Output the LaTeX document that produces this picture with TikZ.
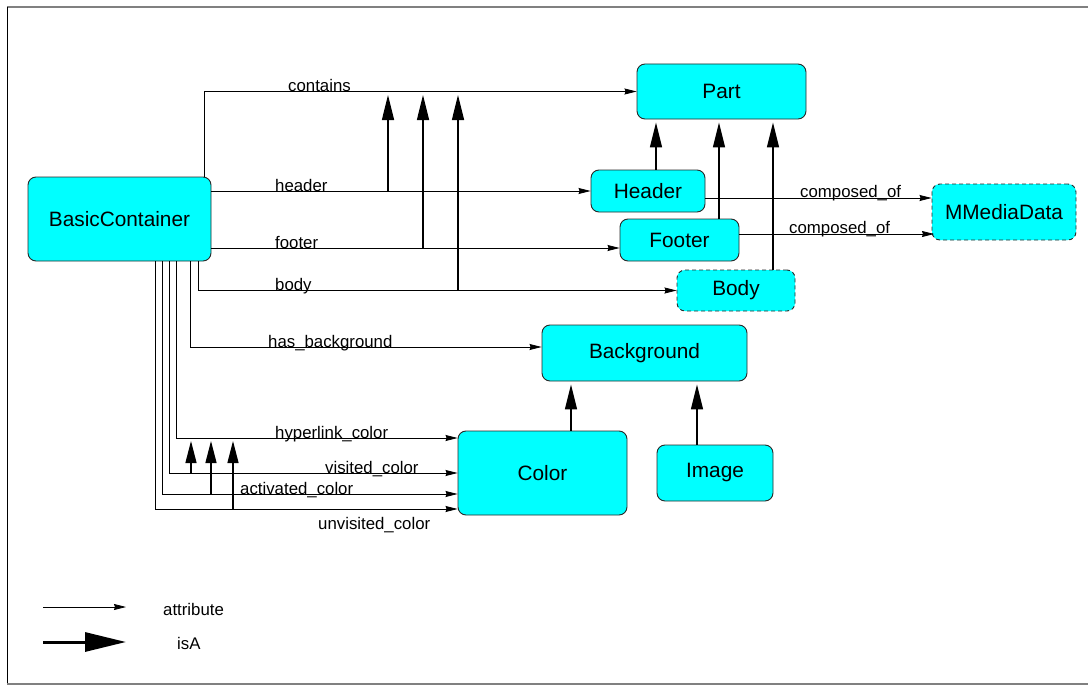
\documentclass[tikz,border=0pt]{standalone}
\usepackage{fontspec}
\setmainfont{Liberation Sans}
\usetikzlibrary{arrows.meta}
\definecolor{boxfill}{RGB}{0,255,255}
\definecolor{boxline}{RGB}{40,40,40}
\definecolor{framegray}{RGB}{128,128,128}
\begin{document}
\begin{tikzpicture}[x=1pt,y=-1pt,
  cls/.style={draw=boxline, fill=boxfill, rounded corners=8pt, line width=0.9pt, inner sep=0pt, font=\fontsize{20.8}{24}\selectfont},
  dcls/.style={cls, dash pattern=on 4pt off 3pt},
  attr/.style={draw=black, line width=0.8pt, -{Stealth[length=12pt,width=6pt,inset=1pt]}},
  isa/.style={draw=black, line width=1.3pt, -{Triangle[length=25pt,width=12pt]}},
  isas/.style={draw=black, line width=1.3pt, -{Triangle[length=22pt,width=11pt]}},
  lbl/.style={font=\fontsize{16.8}{19}\selectfont, inner sep=0pt, anchor=base west},
]
\useasboundingbox (0,0) rectangle (1088,685);
% frame
\draw[framegray, line width=2pt] (7,7) -- (1088,7);
\draw[black, line width=1pt] (7,7) -- (7,685);
\draw[framegray, line width=1.5pt] (7,684) -- (1088,684);

% classes
\node[cls, minimum width=169pt, minimum height=55pt] (part) at (721.5,91.5) {Part};
\node[cls, minimum width=183pt, minimum height=84pt] (bc) at (119.5,219) {BasicContainer};
\node[cls, minimum width=114pt, minimum height=42pt] (header) at (648,191) {Header};
\node[cls, minimum width=119pt, minimum height=42pt] (footer) at (679.5,240) {Footer};
\node[dcls, minimum width=118pt, minimum height=41pt] (body) at (736,290.5) {Body};
\node[dcls, minimum width=144pt, minimum height=56pt] (mmd) at (1004,212) {MMediaData};
\node[cls, minimum width=205pt, minimum height=56pt] (bg) at (644.5,353) {Background};
\node[cls, minimum width=169pt, minimum height=84pt] (color) at (542.5,473) {Color};
\node[cls, minimum width=116pt, minimum height=56pt] (image) at (715,473) {Image};

% attributes
\draw[attr] (bc.north -| 204,0) |- (part.west);
\node[lbl] (lcontains) at (288,92) {contains};
\draw[attr] (bc.east |- header.west) -- (header.west);
\node[lbl] (lheader) at (275,191) {header};
\draw[attr] (bc.east |- 0,248) -- (footer.west |- 0,248);
\node[lbl] (lfooter) at (275,248) {footer};
\draw[attr] (bc.south -| 198,0) |- (body.west);
\node[lbl] (lbody) at (275,290.5) {body};
\draw[attr] (bc.south -| 190,0) |- (bg.west |- 0,347);
\node[lbl] (lbg) at (268,347) {has\_background};
\draw[attr] (bc.south -| 176,0) |- (color.west |- 0,438);
\node[lbl] (lhyp) at (275,438) {hyperlink\_color};
\draw[attr] (bc.south -| 169,0) |- (color.west |- 0,473);
\node[lbl] (lvis) at (325,473) {visited\_color};
\draw[attr] (bc.south -| 162,0) |- (color.west |- 0,494);
\node[lbl] (lact) at (240,494) {activated\_color};
\draw[attr] (bc.south -| 155,0) |- (color.west |- 0,509);
\node[lbl] (lunv) at (318,529) {unvisited\_color};
\draw[attr] (header.east |- 0,198) -- (mmd.west |- 0,198);
\node[lbl] (lcomp1) at (800,197) {composed\_of};
\draw[attr] (footer.east |- 0,234) -- (934,234);
\node[lbl] (lcomp2) at (789,233) {composed\_of};

% isA between relations
\draw[isa, shorten >=3pt] (388,191) -- (388,92);
\draw[isa, shorten >=3pt] (423,248) -- (423,92);
\draw[isa, shorten >=3pt] (458,290.5) -- (458,92);
\draw[isas, shorten >=3pt] (191,473) -- (191,438);
\draw[isas, shorten >=3pt] (211,494) -- (211,438);
\draw[isas, shorten >=3pt] (233,509) -- (233,438);

% isA between classes
\draw[isa, shorten >=3pt] (header.north -| 656,0) -- (part.south -| 656,0);
\draw[isa, shorten >=3pt] (footer.north -| 719,0) -- (part.south -| 719,0);
\draw[isa, shorten >=3pt] (body.north -| 773,0) -- (part.south -| 773,0);
\draw[isa, shorten >=3pt] (color.north -| 571,0) -- (bg.south -| 571,0);
\draw[isa, shorten >=3pt] (image.north -| 697,0) -- (bg.south -| 697,0);

% legend
\coordinate (la1) at (43,607);
\coordinate (la2) at (126,607);
\draw[attr] (la1) -- (la2);
\node[lbl] (lattr) at (163,615) {attribute};
\coordinate (li1) at (43,642);
\coordinate (li2) at (126,642);
\draw[black, line width=3pt, -{Triangle[length=41pt,width=19pt]}] (li1) -- (li2);
\node[lbl] (lisa) at (177,649) {isA};
\end{tikzpicture}
\end{document}
